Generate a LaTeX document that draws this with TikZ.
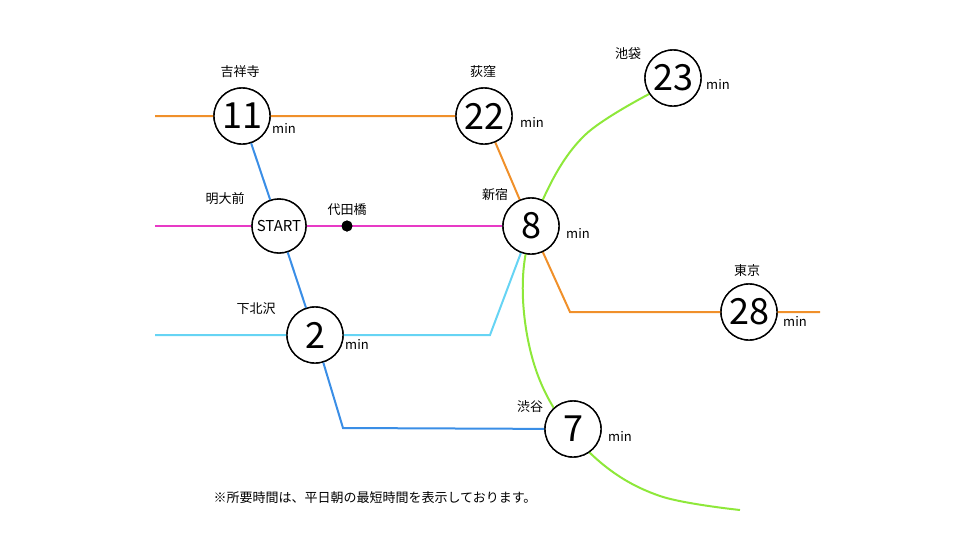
\documentclass[tikz,border=0pt]{standalone}
\usepackage{fontspec}
\setmainfont{Noto Sans CJK JP}
\begin{document}
\begin{tikzpicture}[x=1pt,y=-1pt,
  st/.style={circle,draw=black,line width=1.4pt,fill=white,minimum size=56pt,inner sep=0pt,font=\fontsize{36}{36}\selectfont},
  lb/.style={font=\fontsize{13}{13}\selectfont},
  mn/.style={font=\fontsize{13}{13}\selectfont},
  ln/.style={line width=2pt}]
\useasboundingbox (0,0) rectangle (960,550);
\definecolor{org}{HTML}{F0902A}
\definecolor{blu}{HTML}{3A8EE6}
\definecolor{mag}{HTML}{E83AC6}
\definecolor{lbl}{HTML}{66D4F4}
\definecolor{grn}{HTML}{8EE83A}
\coordinate (oW) at (155,116);
\coordinate (mW) at (155,226);
\coordinate (lW) at (155,335);
\coordinate (oB) at (570,312);
\coordinate (oE) at (820,312);
\coordinate (lB) at (490,335);
\coordinate (bB) at (343,428);
\coordinate (gE) at (740,510);
\node[st] (kichi) at (242,116) {11};
\node[st] (ogi) at (484,116) {22};
\node[st] (ike) at (673,78) {23};
\node[st] (shin) at (531,226) {8};
\node[st,minimum size=54pt,font=\fontsize{15}{15}\selectfont] (start) at (279,226) {START};
\node[st] (tok) at (749,312) {28};
\node[st] (shimo) at (315,335) {2};
\node[st] (shib) at (573,429) {7};
\node[circle,fill=black,inner sep=0pt,minimum size=11pt] (dai) at (347,226) {};
\begin{scope}[on background layer/.try]
\end{scope}
\begin{pgfonlayer}{main}\end{pgfonlayer}
% lines drawn first via behind path trick: draw then redraw nodes
\draw[ln,org] (oW) -- (kichi) -- (ogi) -- (shin) -- (oB) -- (oE);
\draw[ln,blu] (kichi) -- (start) -- (shimo) -- (bB) -- (shib);
\draw[ln,mag] (mW) -- (start) -- (shin);
\draw[ln,lbl] (lW) -- (shimo) -- (lB) -- (shin);
\draw[ln,grn] plot[smooth,tension=0.6] coordinates {(651,93) (585,135) (545,195) (524,265) (528,340) (552,405) (600,462) (660,496) (740,510)};
\foreach \n/\t in {kichi/11,ogi/22,ike/23,shin/8,tok/28,shimo/2,shib/7}
  \node[st] at (\n) {\t};
\node[st,minimum size=54pt,font=\fontsize{15}{15}\selectfont] at (start) {START};
\node[circle,fill=black,inner sep=0pt,minimum size=11pt] at (dai) {};
\node[lb] (l1) at (240,72) {吉祥寺};
\node[lb] (l2) at (483,72) {荻窪};
\node[lb] (l3) at (628,54) {池袋};
\node[lb] (l4) at (495,195) {新宿};
\node[lb] (l5) at (225,199) {明大前};
\node[lb] (l6) at (347,210) {代田橋};
\node[lb] (l7) at (747,271) {東京};
\node[lb] (l8) at (256,309) {下北沢};
\node[lb] (l9) at (530,407) {渋谷};
\node[mn] (m1) at (284,128) {min};
\node[mn] (m2) at (532,122) {min};
\node[mn] (m3) at (718,84) {min};
\node[mn] (m4) at (578,233) {min};
\node[mn] (m5) at (795,321) {min};
\node[mn] (m6) at (357,344) {min};
\node[mn] (m7) at (620,436) {min};
\node[lb] (cap) at (375,498) {※所要時間は、平日朝の最短時間を表示しております。};
\end{tikzpicture}
\end{document}
